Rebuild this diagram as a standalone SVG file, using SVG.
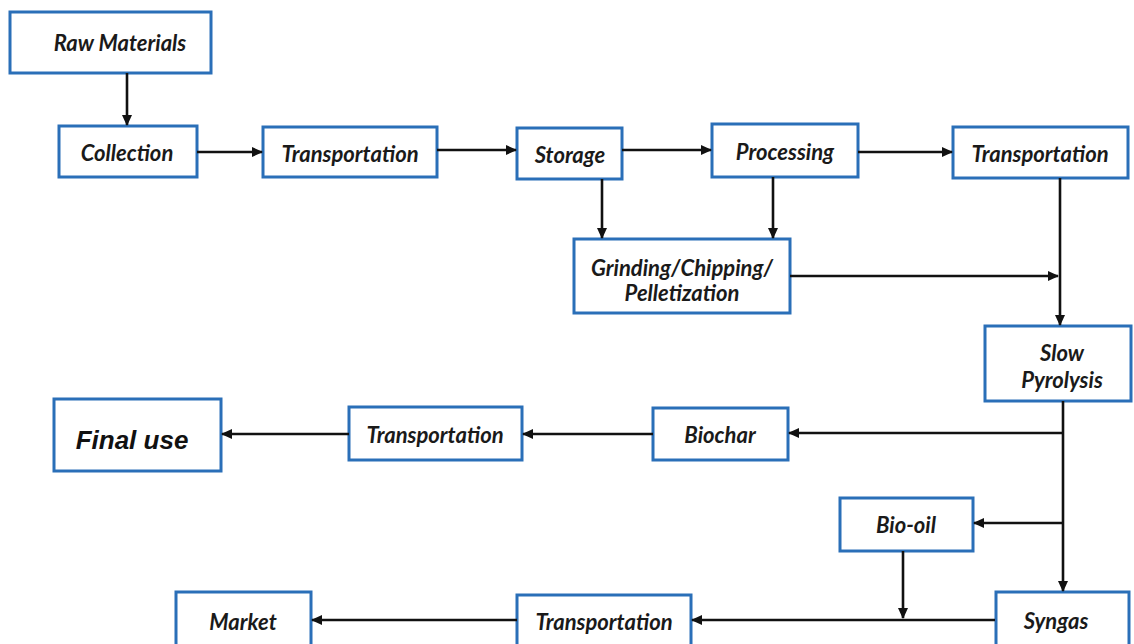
<svg xmlns="http://www.w3.org/2000/svg" width="1134" height="644" viewBox="0 0 1134 644">
<defs>
<marker id="ah" markerUnits="userSpaceOnUse" markerWidth="11" markerHeight="10" refX="10" refY="5" orient="auto">
<path d="M0,0 L11,5 L0,10 z" fill="#111"/>
</marker>
<style>
.box{fill:#fff;stroke:#2a6fb8;stroke-width:3}
.t{font-family:Lato,"Open Sans",sans-serif;font-weight:bold;font-style:italic;font-size:22px;fill:#1a1a1a;text-anchor:middle;dominant-baseline:central}
.big{font-family:"Liberation Sans",Arial,sans-serif;font-weight:bold;font-style:italic;font-size:26px;fill:#111;text-anchor:middle;dominant-baseline:central}
.c path{fill:none;stroke:#111;stroke-width:2.6}
.c .a{marker-end:url(#ah)}
</style>
</defs>
<rect width="1134" height="644" fill="#fff"/>
<g id="raw"><rect class="box" x="10" y="12" width="201" height="61"/><text class="t" x="120" y="42">Raw Materials</text></g>
<g id="collection"><rect class="box" x="59" y="126" width="138" height="51"/><text class="t" x="127" y="152">Collection</text></g>
<g id="transport1"><rect class="box" x="263" y="127" width="174" height="50"/><text class="t" x="350" y="153">Transportation</text></g>
<g id="storage"><rect class="box" x="517" y="128" width="105" height="51"/><text class="t" x="570" y="154">Storage</text></g>
<g id="processing"><rect class="box" x="712" y="124" width="146" height="53"/><text class="t" x="785" y="151">Processing</text></g>
<g id="transport2"><rect class="box" x="953" y="127" width="175" height="51"/><text class="t" x="1040" y="153">Transportation</text></g>
<g id="grinding"><rect class="box" x="574" y="239" width="216" height="74"/><text class="t" x="682" y="267">Grinding/Chipping/</text><text class="t" x="682" y="292">Pelletization</text></g>
<g id="pyrolysis"><rect class="box" x="985" y="326" width="146" height="75"/><text class="t" x="1062" y="352">Slow</text><text class="t" x="1062" y="379">Pyrolysis</text></g>
<g id="biochar"><rect class="box" x="653" y="408" width="135" height="52"/><text class="t" x="720" y="434">Biochar</text></g>
<g id="transport3"><rect class="box" x="349" y="407" width="173" height="53"/><text class="t" x="435" y="434">Transportation</text></g>
<g id="finaluse"><rect class="box" x="54" y="399" width="167" height="72"/><text class="big" x="132" y="440">Final use</text></g>
<g id="biooil"><rect class="box" x="840" y="498" width="133" height="53"/><text class="t" x="906" y="524">Bio-oil</text></g>
<g id="syngas"><rect class="box" x="996" y="592" width="133" height="60"/><text class="t" x="1056" y="620">Syngas</text></g>
<g id="transport4"><rect class="box" x="517" y="595" width="174" height="57"/><text class="t" x="604" y="621">Transportation</text></g>
<g id="market"><rect class="box" x="176" y="592" width="135" height="60"/><text class="t" x="243" y="621">Market</text></g>
<g class="c" id="connectors">
<path class="a" d="M127,73 V125"/>
<path class="a" d="M197,152 H262"/>
<path class="a" d="M437,150 H516"/>
<path class="a" d="M622,150 H711"/>
<path class="a" d="M858,152 H952"/>
<path class="a" d="M602,179 V238"/>
<path class="a" d="M773,177 V238"/>
<path class="a" d="M790,276 H1058"/>
<path class="a" d="M1060,178 V325"/>
<path class="a" d="M1063,401 V591"/>
<path class="a" d="M1063,433 H789"/>
<path class="a" d="M1063,523 H974"/>
<path class="a" d="M653,434 H523"/>
<path class="a" d="M349,434 H222"/>
<path class="a" d="M903,551 V618"/>
<path class="a" d="M995,620 H692"/>
<path class="a" d="M517,620 H312"/>
</g>
</svg>
